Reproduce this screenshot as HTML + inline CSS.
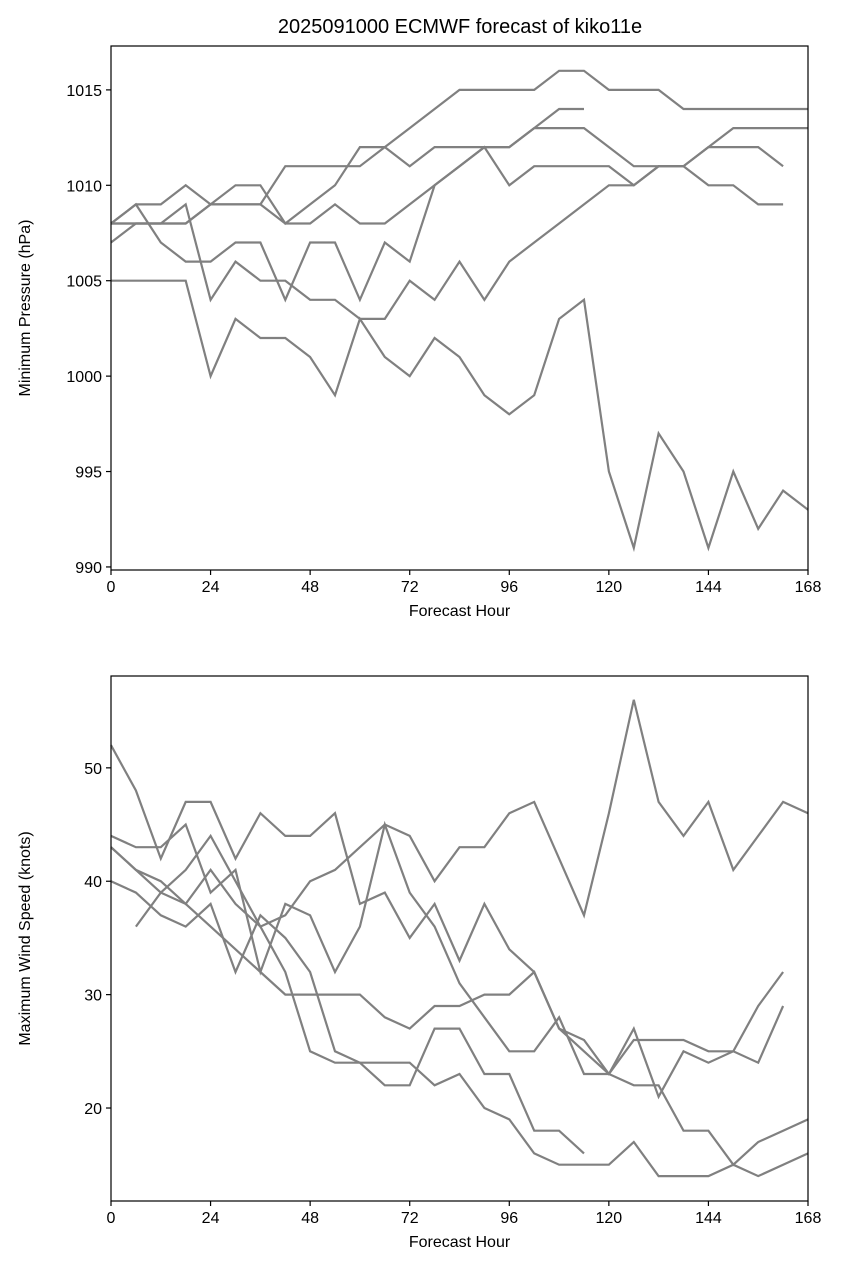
<!DOCTYPE html>
<html><head><meta charset="utf-8"><style>
body{margin:0;background:#fff;}
svg{display:block;font-family:"Liberation Sans","DejaVu Sans",sans-serif;}
</style></head><body>
<svg id="chart" width="843" height="1279" viewBox="0 0 843 1279">
<rect width="843" height="1279" fill="#fff"/>
<text x="460" y="33" font-size="20" text-anchor="middle">2025091000 ECMWF forecast of kiko11e</text>
<g id="p1"></g>
<g id="p2"></g>
</svg>
<script>
const hours = [0,6,12,18,24,30,36,42,48,54,60,66,72,78,84,90,96,102,108,114,120,126,132,138,144,150,156,162,168];
const xTicks = [0,24,48,72,96,120,144,168];
const presTicks = [990,995,1000,1005,1010,1015];
const windTicks = [20,30,40,50];
const N = null;
const pres1 = [1005,1005,1005,1005,1000,1003,1002,1002,1001,999,1003,1001,1000,1002,1001,999,998,999,1003,1004,995,991,997,995,991,995,992,994,993];
const pres2 = [1008,1009,1007,1006,1006,1007,1007,1004,1007,1007,1004,1007,1006,1010,1011,1012,1010,1011,1011,1011,1011,1010,1011,1011,1012,1012,1012,1011,N];
const pres3 = [1008,1008,1008,1009,1004,1006,1005,1005,1004,1004,1003,1003,1005,1004,1006,1004,1006,1007,1008,1009,1010,1010,1011,1011,1012,1013,1013,1013,1013];
const pres4 = [1007,1008,1008,1008,1009,1009,1009,1008,1008,1009,1008,1008,1009,1010,1011,1012,1012,1013,1013,1013,1012,1011,1011,1011,1010,1010,1009,1009,N];
const pres5 = [1008,1009,1009,1010,1009,1010,1010,1008,1009,1010,1012,1012,1011,1012,1012,1012,1012,1013,1014,1014,N,N,N,N,N,N,N,N,N];
const pres6 = [1008,1008,1008,1008,1009,1009,1009,1011,1011,1011,1011,1012,1013,1014,1015,1015,1015,1015,1016,1016,1015,1015,1015,1014,1014,1014,1014,1014,1014];
const wind1 = [52,48,42,47,47,42,46,44,44,46,38,39,35,38,33,38,34,32,27,26,23,26,26,26,25,25,29,32,N];
const wind2 = [N,36,39,41,44,40,36,37,40,41,43,45,44,40,43,43,46,47,42,37,46,56,47,44,47,41,44,47,46];
const wind3 = [44,43,43,45,39,41,32,38,37,32,36,45,39,36,31,28,25,25,28,23,23,27,21,25,24,25,24,29,N];
const wind4 = [43,41,39,38,36,34,32,30,30,30,30,28,27,29,29,30,30,32,27,25,23,22,22,18,18,15,17,18,19];
const wind5 = [40,39,37,36,38,32,37,35,32,25,24,24,24,22,23,20,19,16,15,15,15,17,14,14,14,15,14,15,16];
const wind6 = [43,41,40,38,41,38,36,32,25,24,24,22,22,27,27,23,23,18,18,16,N,N,N,N,N,N,N,N,N];
const NS = "http://www.w3.org/2000/svg";
function mk(parent, tag, attrs, text){
  const e = document.createElementNS(NS, tag);
  for (const k in attrs) e.setAttribute(k, attrs[k]);
  if (text !== undefined) e.textContent = text;
  parent.appendChild(e); return e;
}
function panel(g, top, bottom, ymin, ymax, yTicks, series, ylabel, pname){
  const L = 111, R = 808;
  const xs = h => L + (R - L) * h / 168;
  const ys = v => bottom - (bottom - top) * (v - ymin) / (ymax - ymin);
  series.forEach((s, i) => {
    let d = "";
    let pen = false;
    s.forEach((v, j) => {
      if (v === null || v === undefined) { pen = false; return; }
      d += (pen ? "L" : "M") + xs(hours[j]).toFixed(1) + " " + ys(v).toFixed(1) + " ";
      pen = true;
    });
    const p = mk(g, "path", {d: d, fill: "none", stroke: "#808080", "stroke-width": 2.2, "stroke-linejoin": "miter"});
    
    
  });
  const box = mk(g, "rect", {x: L, y: top, width: R - L, height: bottom - top, fill: "none", stroke: "#000", "stroke-width": 1.2});
  
  
  xTicks.forEach(t => {
    const x = xs(t);
    mk(g, "line", {x1: x, x2: x, y1: bottom, y2: bottom + 5, stroke: "#000", "stroke-width": 1.2});
    const tx = mk(g, "text", {x: x, y: bottom + 22, "font-size": 16, "text-anchor": "middle"}, String(t));
    
    
  });
  yTicks.forEach(t => {
    const y = ys(t);
    mk(g, "line", {x1: L - 5, x2: L, y1: y, y2: y, stroke: "#000", "stroke-width": 1.2});
    const tx = mk(g, "text", {x: L - 9, y: y + 6, "font-size": 16, "text-anchor": "end"}, String(t));
    
    
  });
  const xl = mk(g, "text", {x: (L + R) / 2, y: bottom + 46, "font-size": 16, "text-anchor": "middle"}, "Forecast Hour");
  
  
  const cy = (top + bottom) / 2;
  const yl = mk(g, "text", {x: 30, y: cy, "font-size": 16, "text-anchor": "middle", transform: "rotate(-90 30 " + cy + ")"}, ylabel);
  
  
}
panel(document.getElementById("p1"), 46, 570, 989.84, 1017.3, presTicks,
  [pres1, pres2, pres3, pres4, pres5, pres6], "Minimum Pressure (hPa)", "pressure");
panel(document.getElementById("p2"), 676, 1201, 11.8, 58.1, windTicks,
  [wind1, wind2, wind3, wind4, wind5, wind6], "Maximum Wind Speed (knots)", "wind");
</script>
</body></html>
